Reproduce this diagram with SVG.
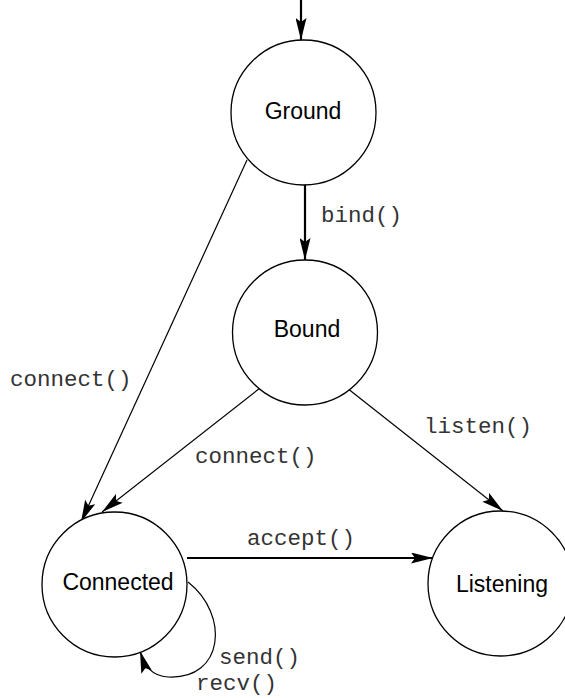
<svg xmlns="http://www.w3.org/2000/svg" width="565" height="698" viewBox="0 0 565 698">
<style>
.node{fill:#fff;stroke:#000;stroke-width:1.3}
.nl{font-family:"Liberation Sans",Arial,sans-serif;font-size:23px;text-anchor:middle;fill:#000}
.el{font-family:"Liberation Mono","Courier New",monospace;font-size:22.5px;fill:#333}
.thin{fill:none;stroke:#000;stroke-width:1.2;marker-end:url(#ah)}
.thick{fill:none;stroke:#000;stroke-width:2.2;marker-end:url(#ah)}
</style>
<defs>
<marker id="ah" viewBox="0 0 22 11" markerWidth="22" markerHeight="11" refX="22" refY="5.5" orient="auto" markerUnits="userSpaceOnUse">
<path d="M0,0 L22,5.5 L0,11 L4,5.5 z" fill="#000"/>
</marker>
</defs>
<rect width="565" height="698" fill="#fff"/>
<g id="connectors">
<path class="thick" d="M301,0 L301,40"/>
<path class="thick" d="M305,183 L305,260"/>
<path class="thin" d="M247,160 L81,522"/>
<path class="thin" d="M260,388 L102,512"/>
<path class="thin" d="M347,388 L503,511"/>
<path class="thick" d="M187,558 L433,558"/>
<path class="thin" d="M188,582 C230,615 224,680 168,677 C152,676 145,667 140,651"/>
</g>
<g id="labels">
<text class="el" x="321" y="222">bind()</text>
<text class="el" x="10" y="386">connect()</text>
<text class="el" x="195" y="463">connect()</text>
<text class="el" x="424" y="433">listen()</text>
<text class="el" x="247" y="545">accept()</text>
<text class="el" x="219" y="664">send()</text>
<text class="el" x="196" y="690">recv()</text>
</g>
<g id="ground">
<circle class="node" cx="303.5" cy="112.5" r="72.5"/>
<text class="nl" x="303" y="119">Ground</text>
</g>
<g id="bound">
<circle class="node" cx="305" cy="332.5" r="72.5"/>
<text class="nl" x="307" y="337">Bound</text>
</g>
<g id="connected">
<circle class="node" cx="114.5" cy="584.5" r="72.5"/>
<text class="nl" x="118" y="590">Connected</text>
</g>
<g id="listening">
<circle class="node" cx="500.5" cy="583.5" r="72.5"/>
<text class="nl" x="502" y="592">Listening</text>
</g>
</svg>
